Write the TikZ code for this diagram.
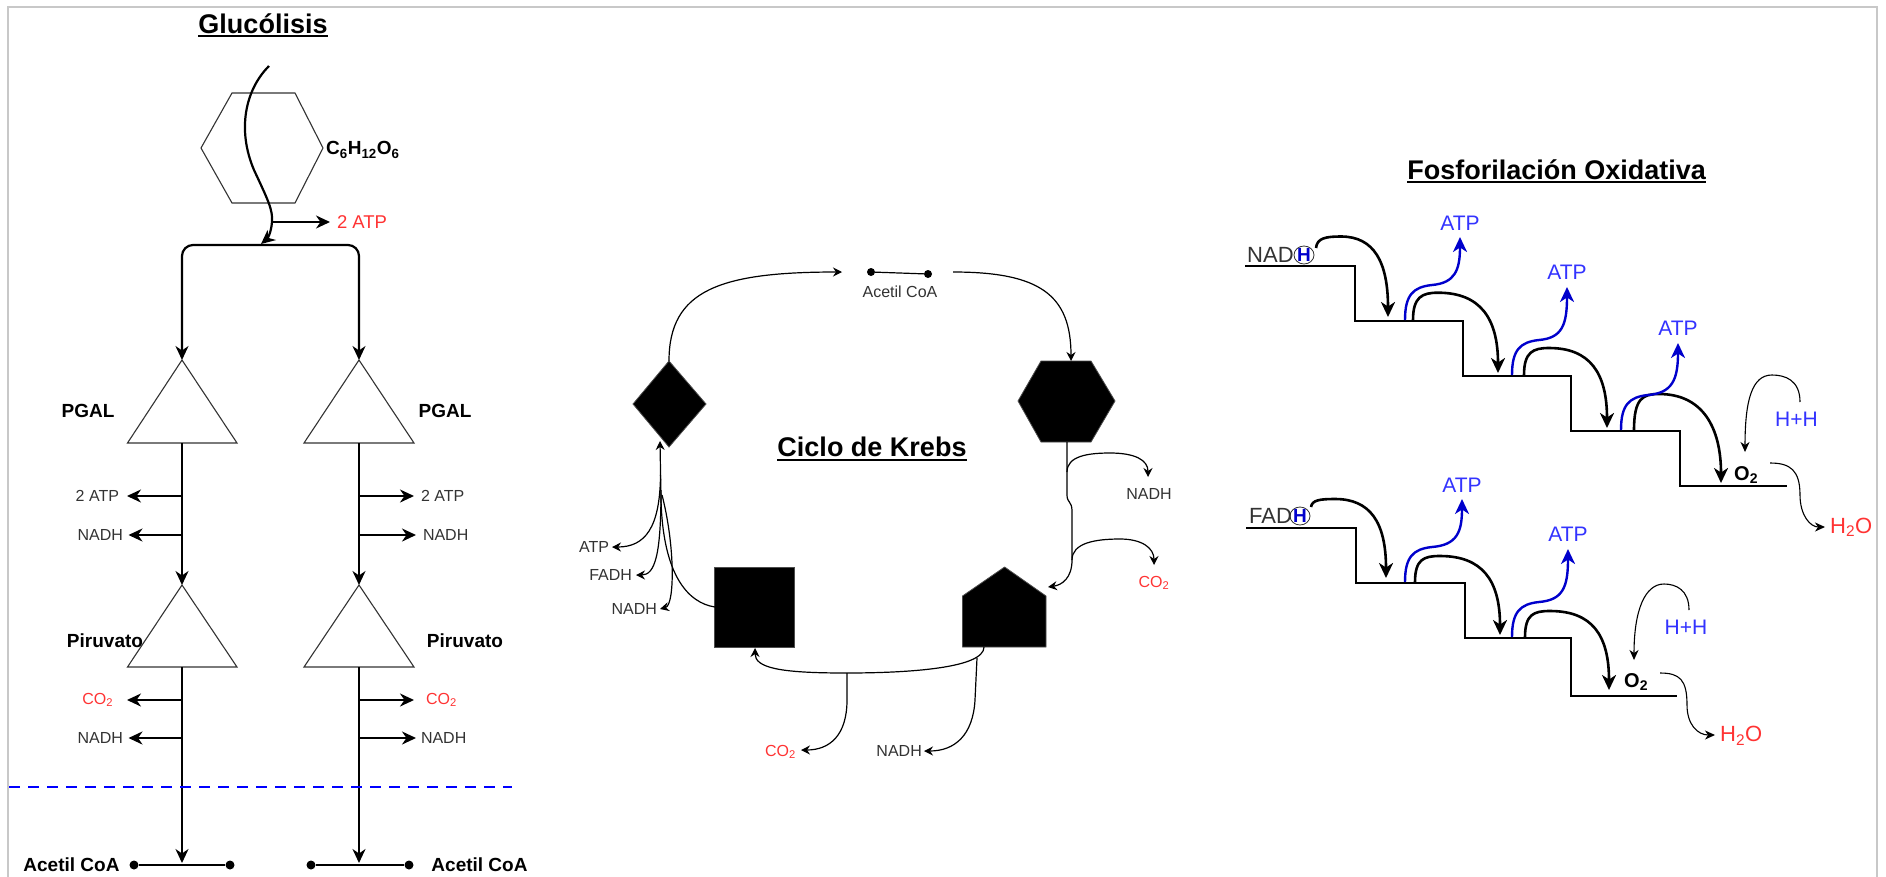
\documentclass[tikz,border=0pt]{standalone}
\usepackage{fontspec}
\setmainfont{Liberation Sans}
\usetikzlibrary{arrows.meta,shapes.geometric}
\definecolor{txtgrey}{HTML}{333333}
\definecolor{myred}{HTML}{FF3333}
\definecolor{myblue}{HTML}{3333FF}
\definecolor{lineblue}{HTML}{0000CC}
\definecolor{dashblue}{HTML}{0000FF}
\definecolor{framegrey}{HTML}{C8C8C8}
\tikzset{
  gly/.style={line width=2.2pt, draw=black},
  shp/.style={line width=1.1pt, draw=black!80},
  bigtip/.style={-{Stealth[length=14pt,width=13pt,inset=4.5pt]}},
  bigboth/.style={{Stealth[length=14pt,width=13pt,inset=4.5pt]}-{Stealth[length=14pt,width=13pt,inset=4.5pt]}},
  karr/.style={line width=1.2pt, draw=black, -{Stealth[length=9pt,width=9pt,inset=3pt]}},
  kline/.style={line width=1.2pt, draw=black},
  kfill/.style={fill=black, draw=black!70, line width=0.8pt},
  stair/.style={line width=2.8pt, draw=black},
  barc/.style={line width=2.6pt, draw=black, -{Stealth[length=15pt,width=14pt,inset=4.5pt]}},
  blarc/.style={line width=2.4pt, draw=lineblue, -{Stealth[length=15pt,width=14pt,inset=4.5pt]}},
  harc/.style={line width=1.1pt, draw=black, -{Stealth[length=10pt,width=9pt,inset=3pt]}},
  lbl/.style={inner sep=0pt, text=txtgrey, font=\fontsize{16}{19}\selectfont},
  rlbl/.style={inner sep=0pt, text=myred, font=\fontsize{16}{19}\selectfont},
  rlblL/.style={inner sep=0pt, text=myred, font=\fontsize{18.5}{22}\selectfont},
  blbl/.style={inner sep=0pt, text=black, font=\bfseries\fontsize{19}{22}\selectfont},
  ttl/.style={inner sep=0pt, text=black, font=\bfseries\fontsize{27}{32}\selectfont, anchor=base},
  flbl/.style={inner sep=0pt, text=txtgrey, font=\fontsize{22}{26}\selectfont},
  fblue/.style={inner sep=0pt, text=myblue, font=\fontsize{21}{25}\selectfont},
  fred/.style={inner sep=0pt, text=myred, font=\fontsize{22}{26}\selectfont},
  fo/.style={inner sep=0pt, text=black, font=\bfseries\fontsize{20}{24}\selectfont},
  hcirc/.style={draw=txtgrey, ellipse, line width=0.8pt, inner sep=0pt, minimum width=20pt, minimum height=18pt, text=lineblue, font=\bfseries\fontsize{19}{22}\selectfont},
  acdot/.style={circle, fill=black, inner sep=0pt, minimum size=9pt},
}
\newcommand{\circH}{\smash{\makebox[0pt]{\raisebox{-6.8pt}{H}}}}
\begin{document}
\begin{tikzpicture}[x=1pt,y=-1pt]
\useasboundingbox (0,0) rectangle (1886,876);
\fill[white] (0,0) rectangle (1886,876);
\draw[framegrey, line width=2pt] (8,880) -- (8,7) -- (1877,7) -- (1877,880);

%% ================= Glucolisis =================
\node[ttl] (tglu) at (263,33) {Glucólisis};
\draw[line width=2pt] ([yshift=-3pt]tglu.base west) -- ([yshift=-3pt]tglu.base east);

\draw[shp] (232,93) -- (295,93) -- (323,148) -- (295,203) -- (232,203) -- (201,148) -- cycle;
\node[blbl, anchor=west] (glc) at (326,150) {C\textsubscript{6}H\textsubscript{12}O\textsubscript{6}};

\coordinate (cstart) at (269,66);
\coordinate (cjoin) at (272,222);
\coordinate (ctip) at (261,244);
\draw[gly, bigtip] (cstart) .. controls (245,90) and (237,130) .. (254,170) .. controls (268,200) and (273,210) .. (cjoin) .. controls (271,234) and (267,239) .. (ctip);
\node[rlblL, anchor=west, outer xsep=7pt] (atp0) at (330,222) {2 ATP};
\draw[gly, bigtip] (cjoin) -- (atp0.west);

% triangles
\coordinate (pL) at (182,360);
\coordinate (pR) at (359,360);
\coordinate (pLb) at (182,443);
\coordinate (pRb) at (359,443);
\coordinate (qL) at (182,585);
\coordinate (qR) at (359,585);
\coordinate (qLb) at (182,667);
\coordinate (qRb) at (359,667);
\draw[shp] (pL) -- (237,443) -- (127.5,443) -- cycle;
\draw[shp] (pR) -- (414,443) -- (304,443) -- cycle;
\draw[shp] (qL) -- (237,667) -- (127.5,667) -- cycle;
\draw[shp] (qR) -- (414,667) -- (304,667) -- cycle;

\draw[gly, bigboth, rounded corners=11pt] (pL) -- (182,245) -- (359,245) -- (pR);

\node[blbl] (pgalL) at (88,411) {PGAL};
\node[blbl] (pgalR) at (445,411) {PGAL};
\node[blbl] (piruL) at (105,641) {Piruvato};
\node[blbl] (piruR) at (465,641) {Piruvato};

\draw[gly, bigtip] (pLb) -- (qL);
\draw[gly, bigtip] (pRb) -- (qR);

% Acetil CoA bars
\node[acdot] (al1) at (134,865) {};
\node[acdot] (al2) at (230,865) {};
\node[acdot] (ar1) at (311,865) {};
\node[acdot] (ar2) at (409,865) {};
\draw[gly] (al1) -- (al2);
\draw[gly] (ar1) -- (ar2);
\coordinate (acLm) at (182,863);
\coordinate (acRm) at (359,863);
\draw[gly, bigtip] (qLb) -- (acLm);
\draw[gly, bigtip] (qRb) -- (acRm);
\node[blbl] (acL) at (71.5,865) {Acetil CoA};
\node[blbl] (acR) at (479.5,865) {Acetil CoA};

% side products
\coordinate (jL1) at (182,496); \coordinate (jL2) at (182,535);
\coordinate (jL3) at (182,700); \coordinate (jL4) at (182,738);
\coordinate (jR1) at (359,496); \coordinate (jR2) at (359,535);
\coordinate (jR3) at (359,700); \coordinate (jR4) at (359,738);
\node[lbl, anchor=east, outer xsep=8pt] (sL1) at (127,496) {2 ATP};
\node[lbl, anchor=east, outer xsep=5.5pt] (sL2) at (128.5,535) {NADH};
\node[rlbl, anchor=east, outer xsep=14pt] (sL3) at (127,700) {\rule{0pt}{11pt}CO\textsubscript{2}};
\node[lbl, anchor=east, outer xsep=5.5pt] (sL4) at (128.5,738) {NADH};
\node[lbl, anchor=west, outer xsep=7pt] (sR1) at (414,496) {2 ATP};
\node[lbl, anchor=west, outer xsep=7pt] (sR2) at (416,535) {NADH};
\node[rlbl, anchor=west, outer xsep=12pt] (sR3) at (414,700) {\rule{0pt}{11pt}CO\textsubscript{2}};
\node[lbl, anchor=west, outer xsep=5pt] (sR4) at (416,738) {NADH};
\draw[gly, bigtip] (jL1) -- (sL1.east);
\draw[gly, bigtip] (jL2) -- (sL2.east);
\draw[gly, bigtip] (jL3) -- (sL3.east);
\draw[gly, bigtip] (jL4) -- (sL4.east);
\draw[gly, bigtip] (jR1) -- (sR1.west);
\draw[gly, bigtip] (jR2) -- (sR2.west);
\draw[gly, bigtip] (jR3) -- (sR3.west);
\draw[gly, bigtip] (jR4) -- (sR4.west);

\draw[dashblue, line width=2.4pt, dash pattern=on 11pt off 8pt] (9,787) -- (512,787);

%% ================= Ciclo de Krebs =================
\node[ttl] (tkre) at (872,456.5) {Ciclo de Krebs};
\draw[line width=2pt] ([yshift=-3pt]tkre.base west) -- ([yshift=-3pt]tkre.base east);

\node[acdot, minimum size=8pt] (ka1) at (871,272) {};
\node[acdot, minimum size=8pt] (ka2) at (928,274) {};
\draw[kline] (ka1) -- (ka2);
\node[lbl] (kac) at (900,292) {Acetil CoA};

% shapes
\fill[kfill] (669,361) -- (706,404) -- (669,447) -- (633,404) -- cycle;
\fill[kfill] (1041,361) -- (1091,361) -- (1115,401) -- (1091,442) -- (1041,442) -- (1018,401) -- cycle;
\fill[kfill] (962.5,596) -- (1004.6,567) -- (1046,596) -- (1046,647) -- (962.5,647) -- cycle;
\fill[kfill] (714.6,567) rectangle (794.6,647);

\coordinate (dtop) at (669,361);
\coordinate (kin) at (842,272);
\coordinate (kout) at (953,272);
\coordinate (htop) at (1071,361);
\coordinate (hbot) at (1067,442);
\coordinate (pentR) at (1048,587);
\coordinate (pentB) at (984,647);
\coordinate (sqB) at (755,648);
\coordinate (sqW) at (715,607);
\coordinate (dbot) at (660,441);

\draw[karr] (dtop) .. controls (669,290) and (720,272) .. (kin);
\draw[karr] (kout) .. controls (1040,272) and (1071,295) .. (htop);

\draw[karr] (hbot) -- (1067,495) .. controls (1067,503) and (1072,501) .. (1072,511) -- (1072,560) .. controls (1072,578) and (1062,585) .. (pentR);
\coordinate (kn1) at (1148,477);
\coordinate (kc1) at (1154,565);
\draw[karr] (1067,472) .. controls (1067,456) and (1088,453) .. (1110,453) .. controls (1135,453) and (1148,460) .. (kn1);
\draw[karr] (1072,560) .. controls (1072,543) and (1095,539) .. (1120,539) .. controls (1142,539) and (1154,548) .. (kc1);
\node[lbl] (knadh1) at (1149,494) {NADH};
\node[rlbl, anchor=base] (kco1) at (1154,587) {CO\textsubscript{2}};

\draw[karr] (pentB) .. controls (984,668) and (910,673) .. (846,673) .. controls (780,673) and (755,668) .. (sqB);
\coordinate (kc2) at (801,750);
\coordinate (kn2) at (924,751);
\draw[karr] (847,673) -- (847,700) .. controls (847,735) and (830,750) .. (kc2);
\draw[karr] (977,658) -- (975,700) .. controls (973,735) and (955,751) .. (kn2);
\node[rlbl, anchor=base east] (kco2) at (796,756) {CO\textsubscript{2}};
\node[lbl, anchor=east] (knadh2) at (922,751) {NADH};

\draw[karr] (sqW) .. controls (688,603) and (663,575) .. (661,500) -- (dbot);
\node[lbl, anchor=east, outer xsep=3pt] (katp) at (612,547) {ATP};
\node[lbl, anchor=east, outer xsep=4pt] (kfadh) at (636,575) {FADH};
\node[lbl, anchor=east, outer xsep=3pt] (knadh3) at (660,609) {NADH};
\draw[karr] (660.5,475) .. controls (660,528) and (645,547) .. (katp.east);
\draw[karr] (661,490) .. controls (661,555) and (655,575) .. (kfadh.east);
\draw[karr] (662,495) .. controls (675,545) and (675,605) .. (knadh3.east);

%% ================= Fosforilacion Oxidativa =================
\node[ttl] (tfos) at (1556.6,179) {Fosforilación Oxidativa};
\draw[line width=2pt] ([yshift=-3pt]tfos.base west) -- ([yshift=-3pt]tfos.base east);

% staircase 1 (NADH)
\draw[stair] (1245,266) -- (1355,266) -- (1355,321) -- (1463,321) -- (1463,376) -- (1571,376) -- (1571,431) -- (1680,431) -- (1680,486) -- (1787,486);
\node[flbl, anchor=west] (nad) at (1247,255) {NAD};
\node[hcirc] (nadh) at (1304,255) {\circH};

\coordinate (a1s) at (1316,248);
\draw[barc] (a1s) .. controls (1317,238) and (1326,236.5) .. (1341,236.5) .. controls (1374,236.5) and (1388,262) .. (1388,317);
\draw[barc] (1413,320) .. controls (1413,297) and (1422,292.7) .. (1438,292.7) .. controls (1480,292.7) and (1498,318) .. (1498,373);
\draw[barc] (1524,375) .. controls (1524,352) and (1533,348) .. (1549,348) .. controls (1590,348) and (1607,373) .. (1607,428);
\draw[barc] (1634,430) .. controls (1634,398) and (1643,394) .. (1659,394) .. controls (1703,394) and (1721,428) .. (1721,483);

\node[fblue] (atpA1) at (1460,223) {ATP};
\node[fblue] (atpA2) at (1567,272) {ATP};
\node[fblue] (atpA3) at (1678,328) {ATP};
\coordinate (ta1) at (1460,237);
\coordinate (ta2) at (1567,287);
\coordinate (ta3) at (1678,343);
\draw[blarc] (1405,320) .. controls (1405,295) and (1413,287) .. (1432,285) .. controls (1455,283) and (1460,270) .. (ta1);
\draw[blarc] (1512,375) .. controls (1512,350) and (1520,342) .. (1539,340) .. controls (1562,338) and (1567,325) .. (ta2);
\draw[blarc] (1621,430) .. controls (1621,405) and (1629,397) .. (1648,395) .. controls (1672,393) and (1678,380) .. (ta3);

\node[fo, anchor=base west] (o2a) at (1734,480) {O\textsubscript{2}};
\node[fblue] (hha) at (1796.5,419.5) {H+H};
\node[fred, anchor=base west] (h2oa) at (1830,533) {H\textsubscript{2}O};
\coordinate (hhas) at (1800,402);
\coordinate (o2at) at (1745,452);
\coordinate (o2as) at (1770,463);
\coordinate (h2oat) at (1825,527);
\draw[harc] (hhas) .. controls (1800,380) and (1785,375) .. (1772,375) .. controls (1752,375) and (1745,400) .. (o2at);
\draw[harc] (o2as) .. controls (1790,463) and (1800,470) .. (1800,495) .. controls (1800,515) and (1810,527) .. (h2oat);

% staircase 2 (FADH)
\draw[stair] (1246,528) -- (1356,528) -- (1356,583) -- (1465,583) -- (1465,638) -- (1571,638) -- (1571,696) -- (1677,696);
\node[flbl, anchor=west] (fad) at (1249,516) {FAD};
\node[hcirc] (fadh) at (1300,516) {\circH};

\coordinate (b1s) at (1311,507);
\draw[barc] (b1s) .. controls (1312,500) and (1320,499) .. (1335,499) .. controls (1370,499) and (1386,522) .. (1386,578);
\draw[barc] (1415,582) .. controls (1415,559) and (1424,556) .. (1440,556) .. controls (1482,556) and (1500,580) .. (1500,635);
\draw[barc] (1525,637) .. controls (1525,614) and (1534,611) .. (1550,611) .. controls (1592,611) and (1609,635) .. (1609,690);

\node[fblue] (atpB1) at (1462,485) {ATP};
\node[fblue] (atpB2) at (1568,534) {ATP};
\coordinate (tb1) at (1462,499);
\coordinate (tb2) at (1568,549);
\draw[blarc] (1405,582) .. controls (1405,557) and (1413,549) .. (1432,547) .. controls (1457,545) and (1462,532) .. (tb1);
\draw[blarc] (1512,637) .. controls (1512,612) and (1520,604) .. (1539,602) .. controls (1563,600) and (1568,587) .. (tb2);

\node[fo, anchor=base west] (o2b) at (1624,687) {O\textsubscript{2}};
\node[fblue] (hhb) at (1686,627) {H+H};
\node[fred, anchor=base west] (h2ob) at (1720,741.5) {H\textsubscript{2}O};
\coordinate (hhbs) at (1689,610);
\coordinate (o2bt) at (1634,660);
\coordinate (o2bs) at (1660,673);
\coordinate (h2obt) at (1715,735);
\draw[harc] (hhbs) .. controls (1689,590) and (1676,584) .. (1664,584) .. controls (1645,584) and (1634,610) .. (o2bt);
\draw[harc] (o2bs) .. controls (1680,673) and (1687,680) .. (1687,705) .. controls (1687,725) and (1698,735) .. (h2obt);
\end{tikzpicture}
\end{document}
